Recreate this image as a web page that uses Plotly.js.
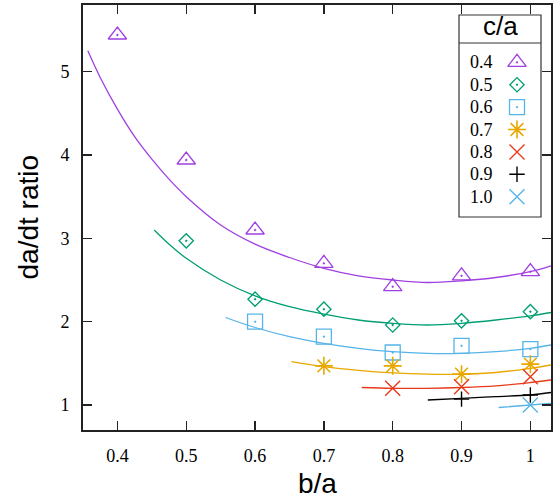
<!DOCTYPE html>
<html>
<head>
<meta charset="utf-8">
<script src="https://cdn.plot.ly/plotly-3.0.1.min.js"></script>
<style>html,body{margin:0;padding:0;background:#fff;}#chart{width:553px;height:501px;}</style>
</head>
<body>
<div id="chart"></div>
<script>
// ---- Data ----
const seriesLabels = ['0.4', '0.5', '0.6', '0.7', '0.8', '0.9', '1.0'];

// measured points (b/a, da/dt ratio)
const pts04_x = [0.4, 0.5, 0.6, 0.7, 0.8, 0.9, 1.0];
const pts04_y = [5.44, 3.94, 3.10, 2.70, 2.42, 2.55, 2.60];
const pts05_x = [0.5, 0.6, 0.7, 0.8, 0.9, 1.0];
const pts05_y = [2.97, 2.27, 2.15, 1.96, 2.01, 2.12];
const pts06_x = [0.6, 0.7, 0.8, 0.9, 1.0];
const pts06_y = [2.00, 1.82, 1.63, 1.71, 1.67];
const pts07_x = [0.7, 0.8, 0.9, 1.0];
const pts07_y = [1.47, 1.47, 1.37, 1.49];
const pts08_x = [0.8, 0.9, 1.0];
const pts08_y = [1.20, 1.22, 1.34];
const pts09_x = [0.9, 1.0];
const pts09_y = [1.07, 1.12];
const pts10_x = [1.0];
const pts10_y = [1.00];

// fitted curves
const fit04_x = [0.357, 0.375, 0.4, 0.425, 0.45, 0.475, 0.5, 0.55, 0.6, 0.65, 0.7, 0.75, 0.8, 0.85, 0.9, 0.95, 1.0, 1.03];
const fit04_y = [5.25, 4.93, 4.55, 4.22, 3.95, 3.71, 3.50, 3.16, 2.93, 2.77, 2.64, 2.55, 2.50, 2.47, 2.49, 2.53, 2.60, 2.67];
const fit05_x = [0.4535, 0.475, 0.5, 0.55, 0.6, 0.65, 0.7, 0.75, 0.8, 0.85, 0.9, 0.95, 1.0, 1.03];
const fit05_y = [3.10, 2.93, 2.76, 2.50, 2.31, 2.18, 2.09, 2.02, 1.98, 1.96, 1.98, 2.02, 2.07, 2.11];
const fit06_x = [0.557, 0.6, 0.65, 0.7, 0.75, 0.8, 0.85, 0.9, 0.95, 1.0, 1.03];
const fit06_y = [2.05, 1.93, 1.82, 1.74, 1.68, 1.64, 1.62, 1.62, 1.64, 1.68, 1.72];
const fit07_x = [0.653, 0.7, 0.75, 0.8, 0.85, 0.9, 0.95, 1.0, 1.03];
const fit07_y = [1.52, 1.46, 1.415, 1.385, 1.37, 1.37, 1.39, 1.44, 1.48];
const fit08_x = [0.755, 0.8, 0.85, 0.9, 0.95, 1.0, 1.03];
const fit08_y = [1.21, 1.20, 1.20, 1.21, 1.23, 1.27, 1.30];
const fit09_x = [0.851, 0.9, 0.95, 1.0, 1.03];
const fit09_y = [1.06, 1.08, 1.10, 1.12, 1.15];
const fit10_x = [0.954, 1.0, 1.03];
const fit10_y = [0.97, 1.00, 1.02];

const xTickVals = [0.4, 0.5, 0.6, 0.7, 0.8, 0.9, 1.0];
const xTickText = ['0.4', '0.5', '0.6', '0.7', '0.8', '0.9', '1'];
const yTickVals = [1, 2, 3, 4, 5];
const yTickText = ['1', '2', '3', '4', '5'];

// ---- Styles ----
const colors = ['#a040e0', '#009e73', '#56b4e9', '#e8a800', '#e83a1a', '#000000', '#56b4e9'];
const symbols = ['triangle-up-open-dot', 'diamond-open-dot', 'square-open-dot', 'asterisk-open', 'x-thin-open', 'cross-thin-open', 'x-thin-open'];
const sizes = [16, 11, 15, 15, 15, 11, 15];
const mlw = [1.3, 1.3, 1.3, 1.6, 1.4, 1.4, 1.4];

const ptsX = [pts04_x, pts05_x, pts06_x, pts07_x, pts08_x, pts09_x, pts10_x];
const ptsY = [pts04_y, pts05_y, pts06_y, pts07_y, pts08_y, pts09_y, pts10_y];
const fitX = [fit04_x, fit05_x, fit06_x, fit07_x, fit08_x, fit09_x, fit10_x];
const fitY = [fit04_y, fit05_y, fit06_y, fit07_y, fit08_y, fit09_y, fit10_y];

const SERIF = "'Liberation Serif'";
const SANS = "'Liberation Sans'";

const traces = [];
for (let i = 0; i < seriesLabels.length; i++) {
  traces.push({
    x: fitX[i], y: fitY[i], type: 'scatter', mode: 'lines',
    line: {color: colors[i], width: 1.3, shape: 'spline', smoothing: 1},
    hoverinfo: 'skip', showlegend: false
  });
}
for (let i = 0; i < seriesLabels.length; i++) {
  traces.push({
    x: ptsX[i], y: ptsY[i], type: 'scatter', mode: 'markers', name: seriesLabels[i],
    marker: {symbol: symbols[i], size: sizes[i], color: colors[i], line: {color: colors[i], width: mlw[i]}},
    showlegend: false
  });
}

// ---- Custom legend (drawn in a pixel-like overlay frame of the plot area) ----
const PW = 468, PH = 425;
const legBox = {x0: 376, x1: 458, y0: 10, y1: 212, sep: 38};
const legTextX = 398, legMarkX = 434, legRow0 = 57.3, legRowGap = 22.4;
const shapes = [
  {type: 'rect', xref: 'x2', yref: 'y2', x0: legBox.x0, x1: legBox.x1, y0: legBox.y0, y1: legBox.y1,
   line: {color: '#333', width: 1.2}, fillcolor: 'rgba(0,0,0,0)', layer: 'below'},
  {type: 'line', xref: 'x2', yref: 'y2', x0: legBox.x0, x1: legBox.x1, y0: legBox.sep, y1: legBox.sep,
   line: {color: '#333', width: 1.2}, layer: 'below'}
];
const annotations = [
  {xref: 'x2', yref: 'y2', x: (legBox.x0 + legBox.x1) / 2, y: 21, text: 'c/a', showarrow: false,
   xanchor: 'center', yanchor: 'middle', font: {family: SANS, size: 26, color: '#000'}},
  {xref: 'paper', yref: 'paper', x: 0.5, y: 0, text: 'b/a', showarrow: false,
   xanchor: 'center', yanchor: 'middle', yshift: -53,
   font: {family: SANS, size: 28, color: '#000'}},
  {xref: 'paper', yref: 'paper', x: 0, y: 0.5, text: 'da/dt ratio', showarrow: false, textangle: -90,
   xanchor: 'center', yanchor: 'middle', xshift: -55,
   font: {family: SANS, size: 28, color: '#000'}}
];
for (let i = 0; i < seriesLabels.length; i++) {
  const yy = legRow0 + i * legRowGap;
  annotations.push({xref: 'x2', yref: 'y2', x: legTextX, y: yy, text: seriesLabels[i], showarrow: false,
    xanchor: 'center', yanchor: 'middle', font: {family: SERIF, size: 18, color: '#000'}});
  traces.push({
    x: [legMarkX], y: [yy], xaxis: 'x2', yaxis: 'y2', type: 'scatter', mode: 'markers',
    marker: {symbol: symbols[i], size: sizes[i], color: colors[i], line: {color: colors[i], width: mlw[i]}},
    hoverinfo: 'skip', showlegend: false
  });
}

const tickFont = {family: SERIF, size: 18, color: '#000'};
const layout = {
  width: 553, height: 501,
  margin: {l: 83, r: 2, t: 5, b: 71, pad: 0},
  paper_bgcolor: '#fff', plot_bgcolor: '#fff',
  font: {family: SANS},
  showlegend: false,
  xaxis: {
    range: [0.35, 1.03], tickvals: xTickVals, ticktext: xTickText,
    ticks: 'inside', ticklen: 9, tickwidth: 1.3, tickcolor: '#222',
    showline: true, linewidth: 2, linecolor: '#222', mirror: 'ticks',
    showgrid: false, zeroline: false, tickfont: tickFont, ticklabelstandoff: 8
  },
  yaxis: {
    range: [0.7, 5.8], tickvals: yTickVals, ticktext: yTickText,
    ticks: 'inside', ticklen: 9, tickwidth: 1.3, tickcolor: '#222',
    showline: true, linewidth: 2, linecolor: '#222', mirror: 'ticks',
    showgrid: false, zeroline: false, tickfont: tickFont, ticklabelstandoff: 8
  },
  xaxis2: {overlaying: 'x', range: [0, PW], visible: false, fixedrange: true},
  yaxis2: {overlaying: 'y', range: [PH, 0], visible: false, fixedrange: true},
  shapes: shapes,
  annotations: annotations
};

Plotly.newPlot('chart', traces, layout, {displayModeBar: false, staticPlot: true});
</script>
</body>
</html>
